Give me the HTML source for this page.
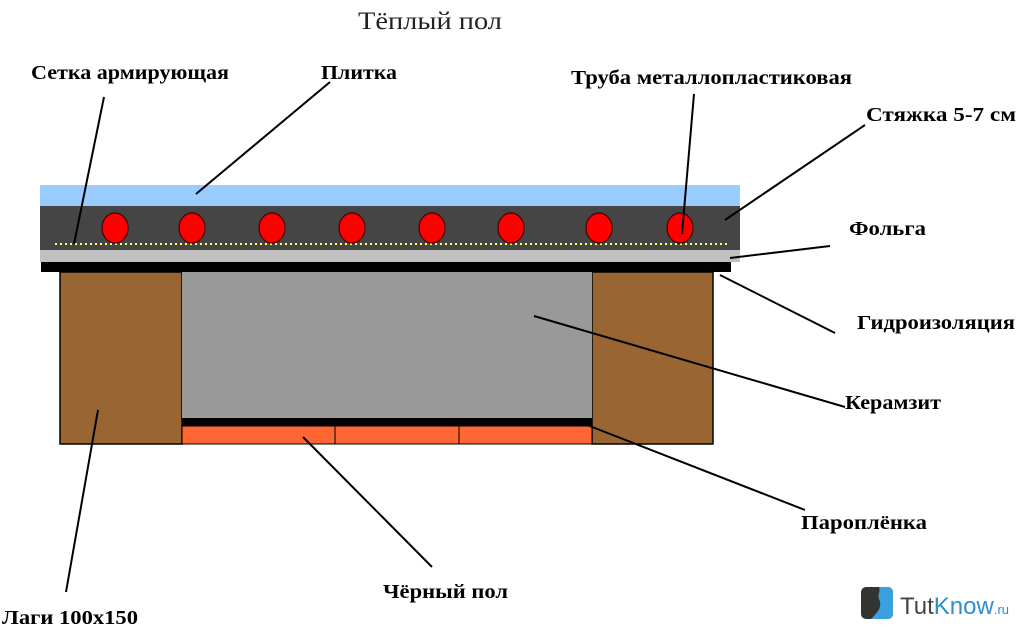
<!DOCTYPE html>
<html><head><meta charset="utf-8"><style>
body{margin:0;background:#fff;}
svg{display:block}
.l{font-family:"Liberation Serif",serif;font-weight:bold;font-size:20px;fill:#000}
</style></head><body>
<svg width="1024" height="633" viewBox="0 0 1024 633">
<text x="358" y="29" textLength="144" lengthAdjust="spacingAndGlyphs" font-family="Liberation Serif, serif" font-size="25" fill="#222">Тёплый пол</text>
<rect x="40" y="185" width="700" height="21" fill="#99ccff"/>
<rect x="40" y="206" width="700" height="44" fill="#454545"/>
<rect x="40" y="250" width="700" height="12" fill="#c0c0c0"/>
<rect x="41" y="262" width="690" height="10" fill="#000"/>
<rect x="60" y="272" width="122" height="172" fill="#996633" stroke="#000" stroke-width="1.5"/>
<rect x="592" y="272" width="121" height="172" fill="#996633" stroke="#000" stroke-width="1.5"/>
<rect x="182" y="272" width="410" height="146" fill="#999"/>
<rect x="182" y="418" width="410" height="8" fill="#000"/>
<rect x="182" y="426" width="410" height="18" fill="#ff6633" stroke="#000" stroke-width="1"/>
<line x1="335" y1="426" x2="335" y2="444" stroke="#000"/>
<line x1="459" y1="426" x2="459" y2="444" stroke="#000"/>
<line x1="55" y1="244" x2="728" y2="244" stroke="#ffff66" stroke-width="2" stroke-dasharray="2,3"/>
<g fill="#ff0000" stroke="#400" stroke-width="1.2">
<ellipse cx="115" cy="228" rx="13" ry="15"/><ellipse cx="192" cy="228" rx="13" ry="15"/>
<ellipse cx="272" cy="228" rx="13" ry="15"/><ellipse cx="352" cy="228" rx="13" ry="15"/>
<ellipse cx="432" cy="228" rx="13" ry="15"/><ellipse cx="511" cy="228" rx="13" ry="15"/>
<ellipse cx="599" cy="228" rx="13" ry="15"/><ellipse cx="680" cy="228" rx="13" ry="15"/>
</g>
<g stroke="#000" stroke-width="2">
<line x1="104" y1="97" x2="74" y2="244"/>
<line x1="330" y1="82" x2="196" y2="194"/>
<line x1="694" y1="94" x2="682" y2="234"/>
<line x1="865" y1="125" x2="725" y2="220"/>
<line x1="830" y1="246" x2="730" y2="258"/>
<line x1="835" y1="333" x2="720" y2="275"/>
<line x1="845" y1="407" x2="534" y2="316"/>
<line x1="805" y1="510" x2="587" y2="425"/>
<line x1="432" y1="567" x2="303" y2="437"/>
<line x1="66" y1="592" x2="98" y2="410"/>
</g>
<text class="l" x="31" y="79" textLength="198" lengthAdjust="spacingAndGlyphs">Сетка армирующая</text>
<text class="l" x="321" y="79" textLength="76" lengthAdjust="spacingAndGlyphs">Плитка</text>
<text class="l" x="571" y="84" textLength="281" lengthAdjust="spacingAndGlyphs">Труба металлопластиковая</text>
<text class="l" x="866" y="121" textLength="150" lengthAdjust="spacingAndGlyphs">Стяжка 5-7 см</text>
<text class="l" x="849" y="235" textLength="77" lengthAdjust="spacingAndGlyphs">Фольга</text>
<text class="l" x="857" y="329" textLength="158" lengthAdjust="spacingAndGlyphs">Гидроизоляция</text>
<text class="l" x="845" y="409" textLength="96" lengthAdjust="spacingAndGlyphs">Керамзит</text>
<text class="l" x="801" y="529" textLength="126" lengthAdjust="spacingAndGlyphs">Пароплёнка</text>
<text class="l" x="383" y="598" textLength="125" lengthAdjust="spacingAndGlyphs">Чёрный пол</text>
<text class="l" x="2" y="624" textLength="136" lengthAdjust="spacingAndGlyphs">Лаги 100х150</text>
<g transform="translate(861,587)">
<rect x="0" y="0" width="32" height="32" rx="5" fill="#333"/>
<path d="M18 0 H27 A5 5 0 0 1 32 5 V27 A5 5 0 0 1 27 32 H10 C16 26 22 20 18 12 C16 8 20 4 18 0Z" fill="#3aa0e0"/>
</g>
<text x="900" y="614" font-family="Liberation Sans, sans-serif" font-size="24" fill="#444">Tut<tspan fill="#2a90d0">Know</tspan><tspan font-size="13" fill="#2a90d0">.ru</tspan></text>
</svg>
</body></html>
